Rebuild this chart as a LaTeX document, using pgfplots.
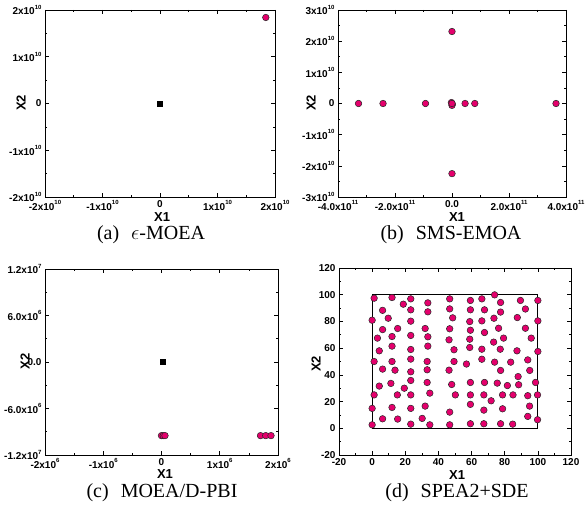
\documentclass[border=0pt]{standalone}
\usepackage{pgfplots}
\pgfplotsset{compat=1.18}
\usepackage{fontspec}
\setmainfont{Liberation Serif}
\setsansfont{Liberation Sans}
\definecolor{pinkc}{RGB}{228,0,108}
\newcommand\tl{\sffamily\bfseries\fontsize{10}{12}\selectfont}
\newcommand\ee[1]{\raisebox{0.55em}{\fontsize{6}{7}\selectfont #1}}
\pgfplotsset{
  myax/.style={
    scale only axis,
    scaled ticks=false,
    axis line style={line width=0.8pt},
    tick align=inside,
    major tick length=4pt, minor tick length=2pt,
    minor tick num=1,
    every tick/.style={black, line width=0.6pt},
    ticklabel style={font=\tl},
    xlabel style={font=\sffamily\bfseries\fontsize{13}{15}\selectfont, anchor=center},
    ylabel style={font=\sffamily\bfseries\fontsize{13}{15}\selectfont, anchor=center, rotate=0},
  },
  mag/.style={only marks, mark=*, mark size=3.3pt, mark options={fill=pinkc, draw=black!85, line width=0.5pt}},
  sq/.style={only marks, mark=square*, mark size=2.5pt, mark options={fill=black, draw=black}},
}
\begin{document}
\begin{tikzpicture}
\path[use as bounding box] (0,0) rectangle (586pt,-518pt);

% (a)
\begin{axis}[myax, at={(45pt,-197pt)}, anchor=south west, width=230pt, height=187pt,
  xmin=-2e10, xmax=2e10, ymin=-2e10, ymax=2e10,
  xtick={-2e10,-1e10,0,1e10,2e10},
  xticklabels={-2x10\ee{10},-1x10\ee{10},0,1x10\ee{10},2x10\ee{10}},
  ytick={-2e10,-1e10,0,1e10,2e10},
  yticklabels={-2x10\ee{10},-1x10\ee{10},0,1x10\ee{10},2x10\ee{10}},
  xlabel={X1}, ylabel={X2},
  xlabel style={at={(axis description cs:0.509,-0.108)}},
  ylabel style={at={(axis description cs:-0.104,0.503)}},
]
\addplot[sq] coordinates {(0,0)};
\addplot[mag] coordinates {(1.84e10,1.84e10)};
\end{axis}

% (b)
\begin{axis}[myax, at={(338pt,-197pt)}, anchor=south west, width=228pt, height=187pt,
  xmin=-4e11, xmax=4e11, ymin=-3e10, ymax=3e10,
  xtick={-4e11,-2e11,0,2e11,4e11},
  xticklabels={-4.0x10\ee{11},-2.0x10\ee{11},0.0,2.0x10\ee{11},4.0x10\ee{11}},
  ytick={-3e10,-2e10,-1e10,0,1e10,2e10,3e10},
  yticklabels={-3x10\ee{10},-2x10\ee{10},-1x10\ee{10},0,1x10\ee{10},2x10\ee{10},3x10\ee{10}},
  xlabel={X1}, ylabel={X2},
  xlabel style={at={(axis description cs:0.522,-0.108)}},
  ylabel style={at={(axis description cs:-0.118,0.503)}},
]
\addplot[sq] coordinates {(0,0)};
\addplot[mag] coordinates {
(-3.28e11,0) (-2.42e11,0) (-0.93e11,0) (-0.02e11,0.03e10) (0.01e11,-0.02e10) (0,-0.06e10) (0,0)
(0.46e11,0) (0.80e11,0) (3.65e11,0) (0,2.31e10) (0,-2.25e10)};
\end{axis}

% (c)
\begin{axis}[myax, at={(45pt,-455pt)}, anchor=south west, width=233pt, height=186pt,
  xmin=-2e6, xmax=2e6, ymin=-1.2e7, ymax=1.2e7,
  xtick={-2e6,-1e6,0,1e6,2e6},
  xticklabels={-2x10\ee{6},-1x10\ee{6},0,1x10\ee{6},2x10\ee{6}},
  ytick={-1.2e7,-6e6,0,6e6,1.2e7},
  yticklabels={-1.2x10\ee{7},-6.0x10\ee{6},0.0,6.0x10\ee{6},1.2x10\ee{7}},
  xlabel={X1}, ylabel={X2},
  xlabel style={at={(axis description cs:0.515,-0.100)}},
  ylabel style={at={(axis description cs:-0.086,0.505)}},
]
\addplot[sq] coordinates {(0.02e6,0)};
\addplot[mag] coordinates {
(0.0,-9.5e6) (0.03e6,-9.5e6) (0.06e6,-9.5e6) (1.70e6,-9.5e6) (1.79e6,-9.5e6) (1.88e6,-9.5e6)};
\end{axis}

% (d)
\begin{axis}[myax, at={(339pt,-455pt)}, anchor=south west, width=232pt, height=187pt,
  xmin=-20, xmax=120, ymin=-20, ymax=120,
  xtick={-20,0,20,40,60,80,100,120},
  ytick={-20,0,20,40,60,80,100,120},
  /pgf/number format/assume math mode=true,
  xlabel={X1}, ylabel={X2},
  xlabel style={at={(axis description cs:0.509,-0.108)}},
  ylabel style={at={(axis description cs:-0.099,0.487)}},
]
\addplot[black, line width=0.8pt] coordinates {(0,0) (100,0) (100,100) (0,100) (0,0)};
\addplot[mag] coordinates {
(1.2,97.4) (12,97.9) (18.8,92.9) (23.3,96.9) (33.6,93.9) (46.8,96.9)
(6.3,88.3) (23.3,88.7) (33.6,87.2) (46.8,89.4)
(0,80.9) (9.7,82.4) (23.3,80.2) (48.6,82.7)
(6.3,73.9) (15.4,74.7) (32,74.7) (46.8,74.5)
(3.2,67.5) (12,68.7) (23.3,69.5) (33.6,68.5) (46.4,66.2)
(4.3,58) (12,61.5) (23.3,59) (33.6,61.5) (49.4,58.8)
(1.2,50) (12,50) (23.3,51.8) (33.2,50) (49.4,50)
(6.3,44.3) (13.8,43.5) (23.3,42.3) (33.2,43.8) (46.4,43.5)
(4.3,31.6) (11.3,33.6) (19.4,30) (23.3,35.8) (33.2,34.3) (48,32.8)
(1.2,25) (15.2,25) (23.3,25) (34.8,26.3) (50.2,25)
(0,14.9) (12,15.6) (23.3,14.9) (32,16.6) (46.8,12.1)
(6.3,7.1) (15.4,6.9) (30.2,7.4)
(0,2.6) (23.3,3.1) (34.8,2.6) (46.8,2.6)
(59.3,95.7) (66.2,96.9) (73.9,99.9) (77.5,94.2) (89.5,95.7) (100,95.7)
(59.3,88.7) (67.8,88.7) (77.5,87) (92.5,89.3)
(58.9,79.9) (66.2,80.4) (73.5,82.4) (87.6,82.9) (100,80.4)
(59.3,73.4) (67.8,71.7) (76.3,74.9) (92.5,74.9)
(58.9,66.7) (73.3,64.5) (79.3,67.5) (96,67.5)
(58.9,60.5) (66.2,59.2) (77.3,59.2) (87.4,58) (100,57.5)
(56.9,48.1) (66.2,51.7) (73.9,49.5) (83.6,49.5) (93.9,51.2)
(77.5,43.3) (95.1,43.3) (88.1,38.7) (98.6,34.3)
(59.3,34.3) (67.8,34.3) (75.5,33.8) (81.6,32) (88.4,32.6)
(59.3,25) (67.4,25) (71.8,20.6) (78.7,25) (85,25) (93.9,24.4) (99.8,25)
(59.3,17.9) (78.7,14.6) (95,16.6) (67.4,13.6)
(93.9,8.9) (99.8,6.4)
(59.3,3.4) (67.4,3.4) (77.5,3.4) (84.8,3.1)};
\end{axis}

\node[font=\fontsize{20}{24}\selectfont] at (151pt,-235pt) {(a)\hspace{0.6em}$\epsilon$-MOEA};
\node[font=\fontsize{20}{24}\selectfont] at (451pt,-235pt) {(b)\hspace{0.6em}SMS-EMOA};
\node[font=\fontsize{20}{24}\selectfont] at (162pt,-493pt) {(c)\hspace{0.6em}MOEA/D-PBI};
\node[font=\fontsize{20}{24}\selectfont] at (457pt,-493pt) {(d)\hspace{0.6em}SPEA2+SDE};
\end{tikzpicture}
\end{document}
